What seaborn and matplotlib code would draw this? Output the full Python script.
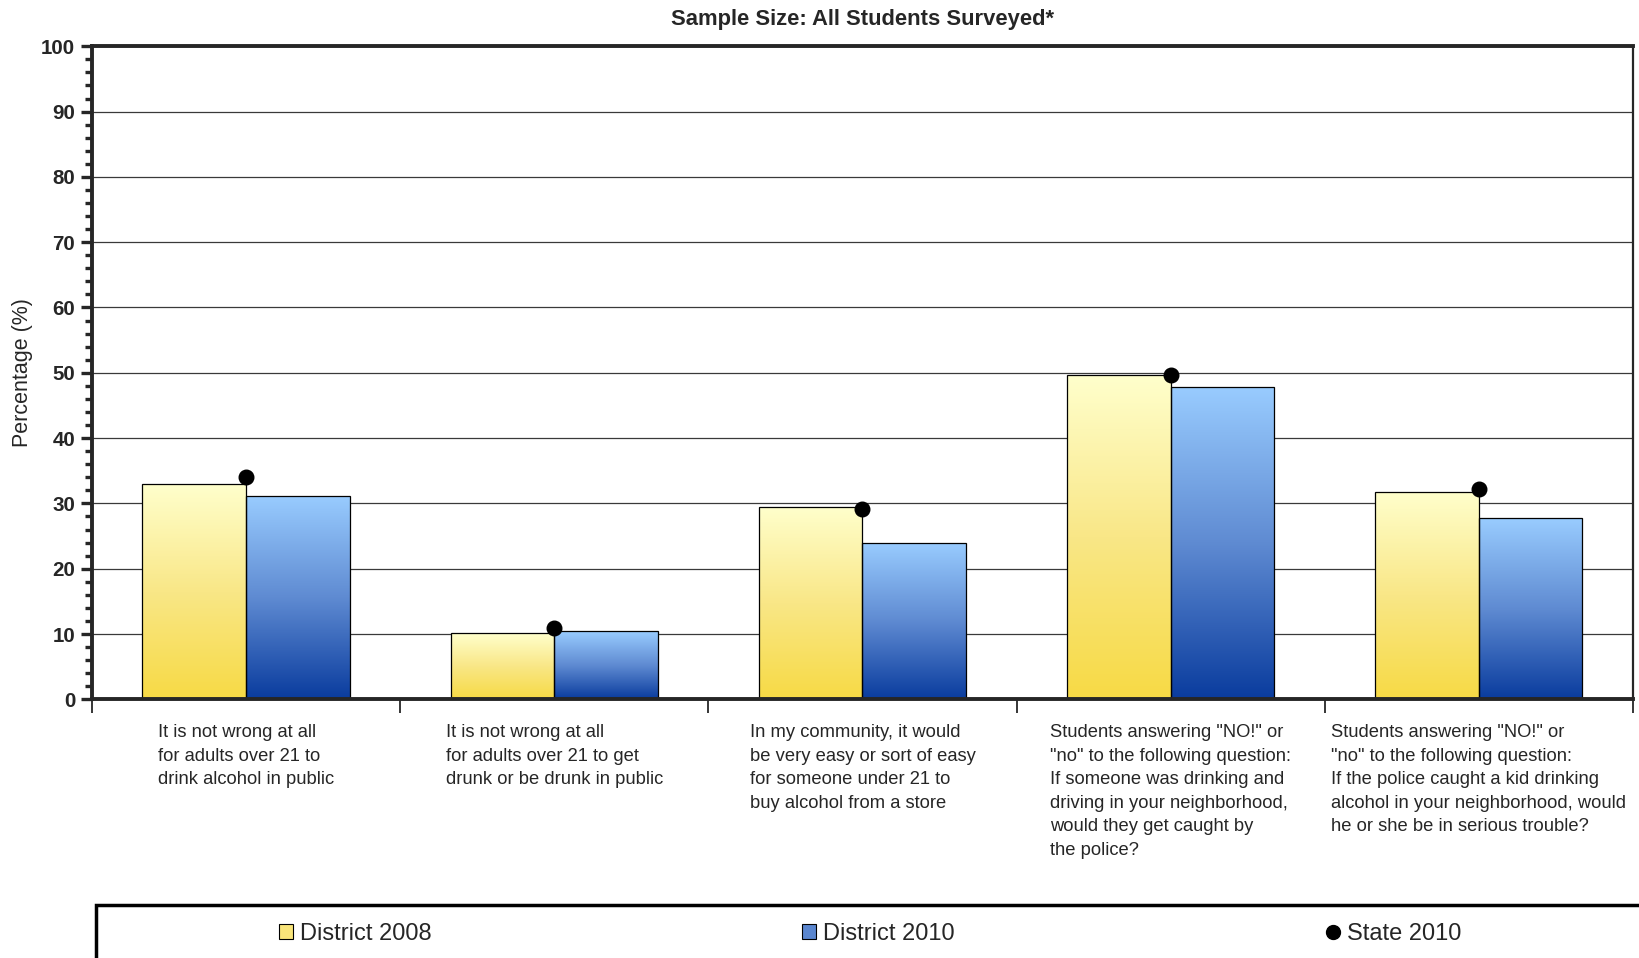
import numpy as np
import pandas as pd
import seaborn as sns
import matplotlib.pyplot as plt
from matplotlib.patches import Patch, Rectangle
from matplotlib.lines import Line2D
from matplotlib.colors import LinearSegmentedColormap

# Data
categories = [
    "It is not wrong at all\nfor adults over 21 to\ndrink alcohol in public",
    "It is not wrong at all\nfor adults over 21 to get\ndrunk or be drunk in public",
    "In my community, it would\nbe very easy or sort of easy\nfor someone under 21 to\nbuy alcohol from a store",
    'Students answering "NO!" or\n"no" to the following question:\nIf someone was drinking and\n'
    'driving in your neighborhood,\nwould they get caught by\nthe police?',
    'Students answering "NO!" or\n"no" to the following question:\nIf the police caught a kid drinking\n'
    'alcohol in your neighborhood, would\nhe or she be in serious trouble?',
]
district_2008 = [32.9, 10.1, 29.4, 49.6, 31.8]
district_2010 = [31.1, 10.4, 24.0, 47.9, 27.7]
state_2010 = [34.0, 11.0, 29.2, 49.6, 32.2]
series_names = ["District 2008", "District 2010"]

df = pd.DataFrame({
    "question": categories * 2,
    "series": [series_names[0]] * 5 + [series_names[1]] * 5,
    "value": district_2008 + district_2010,
})

sns.set_theme(style="ticks")
plt.rcParams["font.family"] = ["Liberation Sans", "DejaVu Sans"]

fig = plt.figure(figsize=(16.39, 9.58), dpi=100)
ax = fig.add_axes([0.0561, 0.270, 0.9402, 0.6817])

yellow_cmap = LinearSegmentedColormap.from_list("yel", ["#F7DA45", "#F9E787", "#FFFFCC"])
blue_cmap = LinearSegmentedColormap.from_list("blu", ["#0A3C9E", "#5F8BD2", "#99CCFF"])

sns.barplot(data=df, x="question", y="value", hue="series",
            palette=["#F9E57A", "#5A86CF"], width=0.672, gap=0,
            edgecolor="black", linewidth=0.9, legend=False, ax=ax)

# gradient fill inside each bar
grad = np.linspace(0, 1, 256).reshape(-1, 1)
bars = [p for p in ax.patches if isinstance(p, Rectangle)]
for i, bar in enumerate(bars):
    cmap = yellow_cmap if i < len(categories) else blue_cmap
    x0, w, h = bar.get_x(), bar.get_width(), bar.get_height()
    im = ax.imshow(grad, cmap=cmap, origin="lower", aspect="auto",
                   extent=[x0, x0 + w, 0, h], zorder=0.9)
    im.set_clip_path(bar)
    bar.set_facecolor("none")
    bar.set_zorder(1)

ax.scatter(np.arange(len(categories)), state_2010, s=110, color="black", zorder=3)

ax.set_xlim(-0.5, len(categories) - 0.5)
ax.set_ylim(0, 100)
ax.set_yticks(range(0, 101, 10))
ax.set_yticks(range(0, 101, 2), minor=True)
ax.set_xticks(np.arange(-0.5, len(categories), 1.0), minor=True)
ax.tick_params(axis="y", which="major", length=8, width=2.4, labelsize=14.8, pad=4)
ax.tick_params(axis="y", which="minor", length=5, width=2.4)
ax.tick_params(axis="x", which="major", length=0, pad=18, labelsize=13.2)
ax.tick_params(axis="x", which="minor", length=10, width=1.3)
for lab in ax.get_yticklabels():
    lab.set_fontweight("bold")
for lab in ax.get_xticklabels():
    lab.set_multialignment("left")
    lab.set_linespacing(1.5)

ax.yaxis.grid(True, color="#3a3a3a", linewidth=0.9)
ax.set_axisbelow(True)
for side in ["left", "top", "bottom"]:
    ax.spines[side].set_linewidth(2.8)
ax.spines["right"].set_linewidth(1.6)

ax.set_xlabel("")
ax.set_ylabel("Percentage (%)", fontsize=15.5, labelpad=6)
ax.set_title("Sample Size: All Students Surveyed*", fontsize=15.8, fontweight="bold", pad=15)

# legend at the bottom
fig.patches.append(Rectangle((96 / 1639, -0.05), 1.0, 0.05 + 53 / 958, transform=fig.transFigure,
                             facecolor="white", edgecolor="black", linewidth=2.5))
handles = [
    Patch(facecolor="#F9E57A", edgecolor="black", linewidth=0.8),
    Patch(facecolor="#5A86CF", edgecolor="black", linewidth=0.8),
    Line2D([], [], marker="o", color="black", linestyle="none", markersize=10),
]
fig.legend(handles, ["District 2008", "District 2010", "State 2010"], ncol=3,
           loc="center", bbox_to_anchor=(870 / 1639, 1 - 934 / 958), frameon=False,
           fontsize=17, handlelength=0.6, handleheight=0.6, handletextpad=0.3,
           columnspacing=15.7)

fig.savefig("out.png", dpi=100)
